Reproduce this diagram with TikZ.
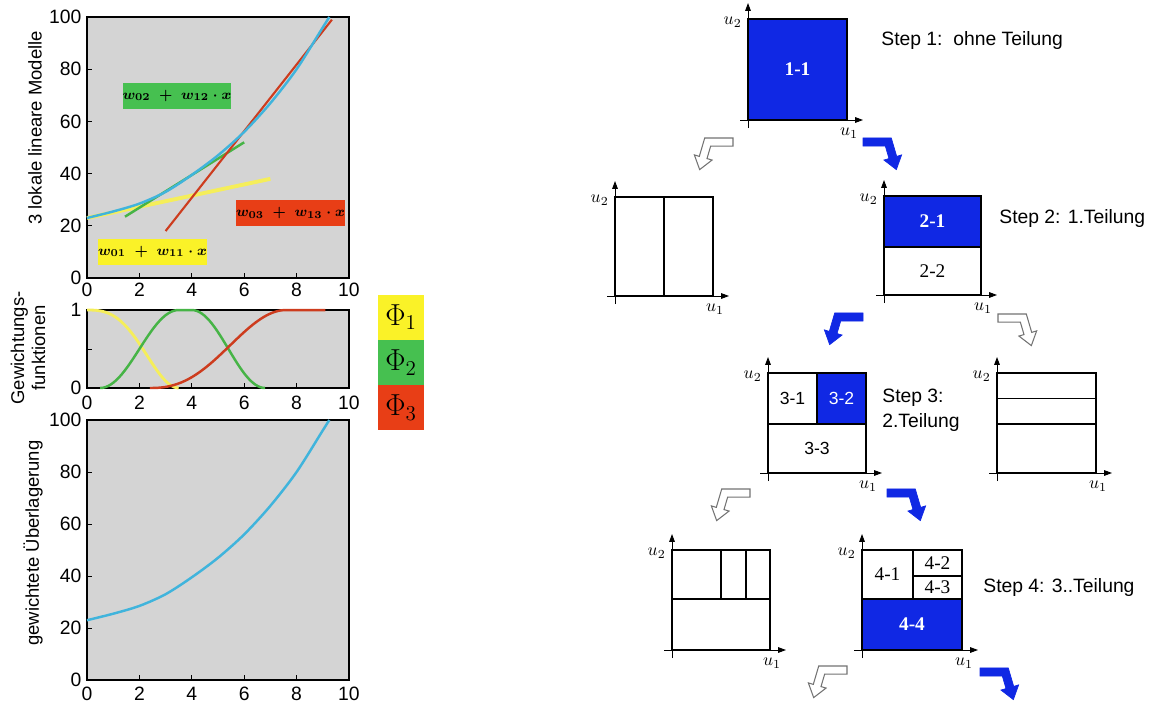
\documentclass[tikz,border=0pt]{standalone}
\usepackage{fontspec}
\setmainfont{Liberation Sans}
\newfontfamily\timesfont{Liberation Serif}
\usepackage{amsmath}
\usetikzlibrary{arrows.meta}

\definecolor{plotgray}{RGB}{212,212,212}
\definecolor{curvecyan}{RGB}{64,180,220}
\definecolor{lineyellow}{RGB}{245,238,90}
\definecolor{linegreen}{RGB}{70,180,70}
\definecolor{linered}{RGB}{205,60,30}
\definecolor{boxyellow}{RGB}{250,242,40}
\definecolor{boxgreen}{RGB}{70,192,80}
\definecolor{boxred}{RGB}{232,62,22}
\definecolor{cellblue}{RGB}{16,40,228}

% axes of one partition box: left, top, right, bottom, name prefix
\newcommand{\uaxes}[5]{%
  \draw[uaxis] (#1,#4+8) -- (#1,#2-16);
  \draw[uaxis] (#1-8,#4) -- (#3+16,#4);
  \node[ulab,anchor=east] (#5u2) at (#1-6,#2+3) {$u_2$};
  \node[ulab,anchor=north] (#5u1) at (#3+2,#4+8) {$u_1$};
}

\begin{document}
\begin{tikzpicture}[x=0.02cm,y=-0.02cm,
  frame/.style={draw=black,line width=0.8pt,fill=plotgray},
  tick/.style={line width=0.5pt},
  ticklab/.style={font=\fontsize{11}{12}\selectfont,inner sep=1pt},
  axtitle/.style={font=\fontsize{10.5}{12}\selectfont,rotate=90,align=center},
  eqbox/.style={minimum width=2.18cm,minimum height=0.52cm,inner sep=0pt,
    font=\fontsize{8.5}{9}\selectfont\boldmath},
  phibox/.style={minimum width=0.92cm,minimum height=0.9cm,inner sep=0pt,
    font=\fontsize{18}{20}\selectfont},
  cell/.style={draw=black,line width=0.9pt},
  uaxis/.style={line width=0.5pt,-{Triangle[length=4.5pt,width=3.2pt]}},
  ulab/.style={font=\fontsize{10}{11}\selectfont,inner sep=0pt},
  celltext/.style={font=\timesfont\fontsize{11}{12}\selectfont,inner sep=0pt},
  cellsans/.style={font=\fontsize{10}{12}\selectfont,inner sep=0pt},
  steptext/.style={font=\fontsize{11}{14}\selectfont,anchor=west,inner sep=0pt,align=left},
  blueturn/.style={fill=cellblue,draw=cellblue,scale=1.15},
  hollowturn/.style={fill=white,draw=black!55,line width=0.6pt,scale=1.15},
  turn/.pic={\path[pic actions] (0,-3.5) -- (24.6,-3.5) -- (29.3,12.5) -- (33.6,11.2)
    -- (29,24) -- (18.2,15.7) -- (22.6,14.4) -- (19.4,3.5) -- (0,3.5) -- cycle;}]
  \useasboundingbox (0,0) rectangle (1153,707);

  % local linear models
  \begin{scope}[shift={(87,278)},x=0.524cm,y=0.0522cm]
    \draw[frame] (0,0) rectangle (10,100);
    \foreach \t in {2,4,6,8} \draw[tick] (\t,0) -- ++(0,3pt);
    \foreach \t in {20,40,60,80} \draw[tick] (0,\t) -- ++(3pt,0);
    \foreach \t in {0,2,...,10} \node[ticklab,anchor=north,yshift=-1.5pt] (xa\t) at (\t,0) {\t};
    \foreach \t in {0,20,...,100} \node[ticklab,anchor=east,xshift=-2pt] (ya\t) at (0,\t) {\t};
    \draw[lineyellow,line width=2.2pt] (0,23) -- (7,38);
    \draw[linegreen,line width=1.4pt] (1.45,23.5) -- (6.0,52);
    \draw[linered,line width=1.2pt] (3,18) -- (9.35,99);
    \draw[curvecyan,line width=1.4pt] plot[smooth] coordinates
      {(0,23) (1,25.5) (2,28.5) (3,33) (4,39.5) (5,47) (6,56) (7,67) (8,80) (9,96) (9.25,100)};
  \end{scope}
  \node[eqbox,fill=boxgreen] (eq2) at (177,95.5) {$w_{02}\;+\;w_{12}\cdot x$};
  \node[eqbox,fill=boxyellow] (eq1) at (152.5,251.5) {$w_{01}\;+\;w_{11}\cdot x$};
  \node[eqbox,fill=boxred] (eq3) at (290.5,213) {$w_{03}\;+\;w_{13}\cdot x$};

  % weighting functions
  \begin{scope}[shift={(87,388)},x=0.524cm,y=1.56cm]
    \draw[frame] (0,0) rectangle (10,1);
    \foreach \t in {2,4,6,8} \draw[tick] (\t,0) -- ++(0,3pt);
    \draw[tick] (0,0.5) -- ++(3pt,0);
    \foreach \t in {0,2,...,10} \node[ticklab,anchor=north,yshift=-3.5pt] (xb\t) at (\t,0) {\t};
    \node[ticklab,anchor=east,xshift=-2pt] (yb0) at (0,0) {0};
    \node[ticklab,anchor=east,xshift=-2pt] (yb1) at (0,1) {1};
    \draw[lineyellow,line width=1.6pt] plot[domain=0.001:3.5,samples=40]
      (\x,{0.5*(1+cos(180*(\x/3.5)^1.4))});
    \draw[linegreen,line width=1.4pt] plot[domain=0.5:3.5,samples=30]
      (\x,{0.5*(1-cos(180*(\x-0.5)/3))}) -- (4,1)
      -- plot[domain=4:6.8,samples=30] (\x,{0.5*(1+cos(180*(\x-4)/2.8))});
    \draw[linered,line width=1.4pt] plot[domain=2.401:7.6,samples=50]
      (\x,{0.5*(1-cos(180*((\x-2.4)/5.2)^1.2))}) -- (9.1,1);
  \end{scope}
  \node[phibox,fill=boxyellow] (phi1) at (401,317) {$\Phi_1$};
  \node[phibox,fill=boxgreen] (phi2) at (401,362.5) {$\Phi_2$};
  \node[phibox,fill=boxred] (phi3) at (401,407.5) {$\Phi_3$};

  % weighted superposition
  \begin{scope}[shift={(87,680)},x=0.524cm,y=0.052cm]
    \draw[frame] (0,0) rectangle (10,100);
    \foreach \t in {2,4,6,8} \draw[tick] (\t,0) -- ++(0,3pt);
    \foreach \t in {20,40,60,80} \draw[tick] (0,\t) -- ++(3pt,0);
    \foreach \t in {0,2,...,10} \node[ticklab,anchor=north,yshift=-3pt] (xc\t) at (\t,0) {\t};
    \foreach \t in {0,20,...,100} \node[ticklab,anchor=east,xshift=-2pt] (yc\t) at (0,\t) {\t};
    \draw[curvecyan,line width=1.4pt] plot[smooth] coordinates
      {(0,23) (1,25.5) (2,28.5) (3,33) (4,39.5) (5,47) (6,56) (7,67) (8,80) (9,96) (9.25,100)};
  \end{scope}

  \node[axtitle] (ttop) at (35,128) {3 lokale lineare Modelle};
  \node[axtitle] (tmid) at (28,348) {Gewichtungs-\\funktionen};
  \node[axtitle] (tbot) at (33,543) {gewichtete Überlagerung};

  % step 1
  \fill[cellblue] (748,19) rectangle (847,120);
  \draw[cell] (748,19) rectangle (847,120);
  \node[celltext,text=white,font=\timesfont\bfseries\fontsize{11}{12}\selectfont] (c11) at (797.5,69.5) {1-1};
  \uaxes{748}{19}{847}{120}{a}
  \node[steptext] (s1) at (881,40) {Step 1:\ \ ohne Teilung};
  \pic[hollowturn,xscale=-1] at (733,142) {turn};
  \pic[blueturn] at (863,142) {turn};

  % step 2
  \draw[cell] (615,197) rectangle (713,296);
  \draw[cell] (664,197) -- (664,296);
  \uaxes{615}{197}{713}{296}{b}
  \fill[cellblue] (884,196) rectangle (981,247);
  \draw[cell] (884,196) rectangle (981,295);
  \draw[cell] (884,247) -- (981,247);
  \node[celltext,text=white,font=\timesfont\bfseries\fontsize{11}{12}\selectfont] (c21) at (932.5,221.5) {2-1};
  \node[celltext] (c22) at (932.5,271) {2-2};
  \uaxes{884}{196}{981}{295}{c}
  \node[steptext] (s2) at (999,218) {Step 2: 1.Teilung};
  \pic[blueturn,xscale=-1] at (863,317) {turn};
  \pic[hollowturn] at (998,318) {turn};

  % step 3
  \fill[cellblue] (817,373) rectangle (866,424);
  \draw[cell] (768,373) rectangle (866,473);
  \draw[cell] (768,424) -- (866,424) (817,373) -- (817,424);
  \node[cellsans] (c31) at (792.5,398.5) {3-1};
  \node[cellsans,text=white] (c32) at (841.5,398.5) {3-2};
  \node[cellsans] (c33) at (817,448.5) {3-3};
  \uaxes{768}{373}{866}{473}{d}
  \node[steptext] (s3) at (882,410) {Step 3:\\2.Teilung};
  \draw[cell] (997,373) rectangle (1096,473);
  \draw[line width=0.5pt] (997,398) -- (1096,398);
  \draw[cell] (997,424) -- (1096,424);
  \uaxes{997}{373}{1096}{473}{e}
  \pic[hollowturn,xscale=-1] at (750,493) {turn};
  \pic[blueturn] at (887,493) {turn};

  % step 4
  \draw[cell] (672,550) rectangle (770,650);
  \draw[cell] (672,599) -- (770,599) (721,550) -- (721,599) (746,550) -- (746,599);
  \uaxes{672}{550}{770}{650}{f}
  \fill[cellblue] (862,599) rectangle (962,650);
  \draw[cell] (862,550) rectangle (962,650);
  \draw[cell] (862,599) -- (962,599) (913,550) -- (913,599) (913,576) -- (962,576);
  \node[celltext] (c41) at (887.5,574.5) {4-1};
  \node[celltext] (c42) at (937.5,563) {4-2};
  \node[celltext] (c43) at (937.5,587.5) {4-3};
  \node[celltext,text=white,font=\timesfont\bfseries\fontsize{11}{12}\selectfont] (c44) at (912,624.5) {4-4};
  \uaxes{862}{550}{962}{650}{g}
  \node[steptext] (s4) at (983,587) {Step 4: 3..Teilung};
  \pic[hollowturn,xscale=-1] at (847,670) {turn};
  \pic[blueturn] at (980,672) {turn};
\end{tikzpicture}
\end{document}
